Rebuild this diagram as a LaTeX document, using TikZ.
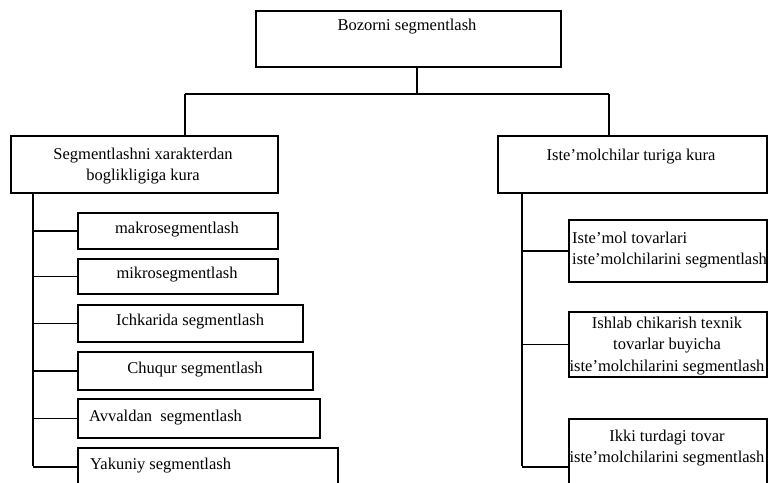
\documentclass[tikz,border=0pt]{standalone}
\usepackage{fontspec}
\setmainfont{Liberation Serif}
\newcommand\myfs{\fontsize{16.5}{21.5}\selectfont}
\begin{document}
\begin{tikzpicture}[x=1pt,y=-1pt,
  box/.style={draw, line width=1.5pt, inner sep=0pt, anchor=north west},
  lbl/.style={font=\myfs, inner sep=0pt, align=center},
  lblw/.style={font=\myfs, inner sep=0pt, align=left, anchor=west},
  conn/.style={line width=1.5pt}]
\clip (0,0) rectangle (768,482);
% top
\node[box, minimum width=305pt, minimum height=56pt] (top) at (255,10) {};
\node[lbl] (toptxt) at (407,27) {Bozorni segmentlash};
% level 1
\node[box, minimum width=267pt, minimum height=57pt] (L) at (10,135) {};
\node[lbl] (Ltxt) at (143,166) {Segmentlashni xarakterdan\\boglikligiga kura};
\node[box, minimum width=269pt, minimum height=57pt] (R) at (497,135) {};
\node[lbl] (Rtxt) at (631,157) {Iste'molchilar turiga kura};
% junctions
\coordinate (j) at (417,94);
\coordinate (jl) at (185,94);
\coordinate (jr) at (609,94);
\draw[conn] (top.south -| j) -- (j);
\draw[conn] (jl) -- (jr);
\draw[conn] (jl) -- (jl |- L.north);
\draw[conn] (jr) -- (jr |- R.north);
% left children
\node[box, minimum width=200pt, minimum height=36pt] (a1) at (77,212) {};
\node[lbl] (a1t) at (177,230) {makrosegmentlash};
\node[box, minimum width=200pt, minimum height=35pt] (a2) at (77,258) {};
\node[lbl] (a2t) at (177,275) {mikrosegmentlash};
\node[box, minimum width=225pt, minimum height=37pt] (a3) at (77,304) {};
\node[lbl] (a3t) at (190,322) {Ichkarida segmentlash};
\node[box, minimum width=235pt, minimum height=38pt] (a4) at (77,351) {};
\node[lbl] (a4t) at (195,370) {Chuqur segmentlash};
\node[box, minimum width=242pt, minimum height=39pt] (a5) at (77,398) {};
\node[lblw] (a5t) at (89,418) {Avvaldan\ \ segmentlash};
\node[box, minimum width=260pt, minimum height=38pt] (a6) at (77,447) {};
\node[lblw] (a6t) at (90,466) {Yakuniy segmentlash};
\coordinate (tl) at (33,466);
\draw[conn] (L.south -| tl) -- (tl);
\foreach \n in {a1,a2,a3,a4,a5,a6} \draw[conn] (\n.west -| tl) -- (\n.west);
% right children
\node[box, minimum width=198pt, minimum height=62pt] (b1) at (568,219) {};
\node[lblw] (b1t) at (572,250) {Iste'mol tovarlari\\iste'molchilarini segmentlash};
\node[box, minimum width=198pt, minimum height=65pt] (b2) at (568,311) {};
\node[lbl] (b2t) at (667,346) {Ishlab chikarish texnik\\tovarlar buyicha\\iste'molchilarini segmentlash};
\node[box, minimum width=198pt, minimum height=96pt] (b3) at (568,418) {};
\node[lbl] (b3t) at (667,448) {Ikki turdagi tovar\\iste'molchilarini segmentlash};
\coordinate (tr) at (522,466);
\draw[conn] (R.south -| tr) -- (tr);
\foreach \n in {b1,b2,b3} \draw[conn] (\n.west -| tr) -- (\n.west);
\end{tikzpicture}
\end{document}
